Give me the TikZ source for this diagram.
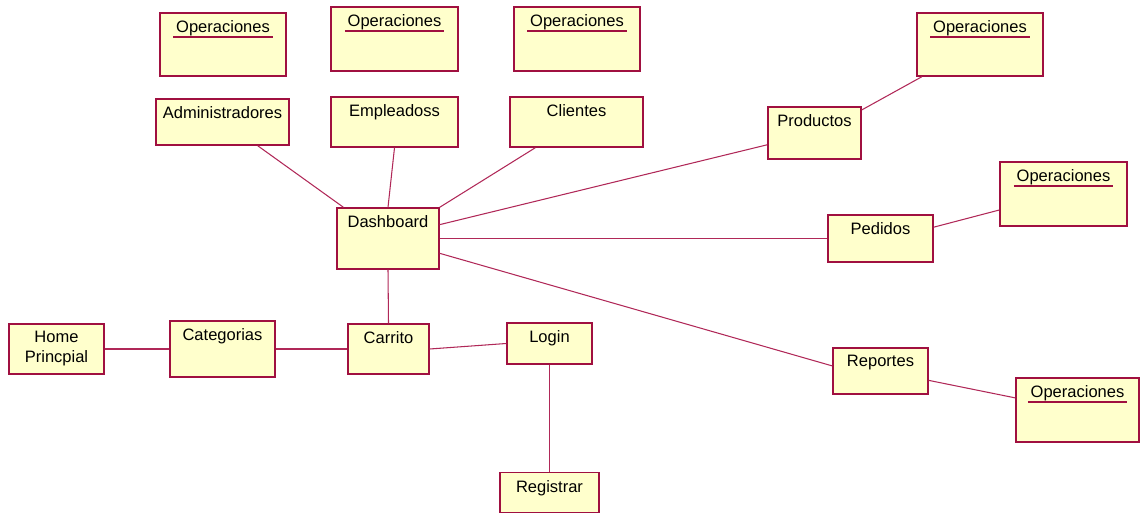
\documentclass[tikz,border=0pt]{standalone}
\usepackage{fontspec}
\setmainfont{Liberation Sans}
\usepackage{tikz}

\definecolor{objline}{RGB}{160,16,64}
\definecolor{objfill}{RGB}{255,255,204}
\definecolor{linkline}{RGB}{176,40,88}

% red underline for the operation boxes
\newsavebox{\opsbox}
\newcommand{\opslabel}{\sbox{\opsbox}{\,Operaciones\,}%
	\rlap{\color{objline}\vrule width\wd\opsbox height -2.2pt depth 3pt}\copy\opsbox}

\begin{document}
\begin{tikzpicture}[
	font=\fontsize{9.4}{11.2}\selectfont,
	obj/.style={draw=objline, fill=objfill, line width=0.8pt, rectangle, inner sep=0pt},
	objname/.style={label={[anchor=north, inner sep=0pt, yshift=-4.5pt, align=center]north:#1}},
	link/.style={draw=linkline, line width=0.6pt}]
	\useasboundingbox (0,0) rectangle (22.8,-10.26);

	% operaciones on top
	\node[obj,minimum width=2.52cm,minimum height=1.26cm,objname=\opslabel] (opsadmin) at (4.46,-0.89) {};
	\node[obj,minimum width=2.54cm,minimum height=1.28cm,objname=\opslabel] (opsempl)  at (7.89,-0.78) {};
	\node[obj,minimum width=2.52cm,minimum height=1.28cm,objname=\opslabel] (opscli)   at (11.54,-0.78) {};

	% users
	\node[obj,minimum width=2.66cm,minimum height=0.92cm,objname=Administradores] (admin)    at (4.45,-2.44) {};
	\node[obj,minimum width=2.54cm,minimum height=1.00cm,objname=Empleadoss]      (empl)     at (7.89,-2.44) {};
	\node[obj,minimum width=2.66cm,minimum height=1.00cm,objname=Clientes]        (clientes) at (11.53,-2.44) {};

	\node[obj,minimum width=2.04cm,minimum height=1.22cm,objname=Dashboard] (dash) at (7.76,-4.77) {};

	% right side
	\node[obj,minimum width=1.86cm,minimum height=1.04cm,objname=Productos] (productos) at (16.29,-2.66) {};
	\node[obj,minimum width=2.52cm,minimum height=1.26cm,objname=\opslabel] (opsprod)   at (19.60,-0.89) {};
	\node[obj,minimum width=2.10cm,minimum height=0.94cm,objname=Pedidos]   (pedidos)   at (17.61,-4.77) {};
	\node[obj,minimum width=2.54cm,minimum height=1.28cm,objname=\opslabel] (opsped)    at (21.27,-3.88) {};
	\node[obj,minimum width=1.90cm,minimum height=0.92cm,objname=Reportes]  (reportes)  at (17.61,-7.42) {};
	\node[obj,minimum width=2.46cm,minimum height=1.28cm,objname=\opslabel] (opsrep)    at (21.55,-8.20) {};

	% bottom row
	\node[obj,minimum width=1.90cm,minimum height=1.00cm,objname={Home\\Princpial}] (home) at (1.13,-6.98) {};
	\node[obj,minimum width=2.10cm,minimum height=1.12cm,objname=Categorias] (categorias) at (4.45,-6.98) {};
	\node[obj,minimum width=1.62cm,minimum height=1.00cm,objname=Carrito]    (carrito)    at (7.77,-6.98) {};
	\node[obj,minimum width=1.70cm,minimum height=0.82cm,objname=Login]      (login)      at (10.99,-6.87) {};
	\node[obj,minimum width=1.98cm,minimum height=0.80cm,objname=Registrar]  (registrar)  at (10.99,-9.85) {};

	\draw[link] (admin.-34) -- (dash.145);
	\draw[link] (empl.south) -- (dash.north);
	\draw[link] (clientes.212) -- (dash.north east);
	\draw[link] (dash.15) -- (productos.194);
	\draw[link] (dash.east) -- (pedidos.west);
	\draw[link] (dash.-16) -- (reportes.174);
	\draw[link] (productos.26) -- (opsprod.209);
	\draw[link] (pedidos.12) -- (opsped.194);
	\draw[link] (reportes.-11) -- (opsrep.169);
	\draw[link] (dash.south) -- (carrito.north);
	\draw[link] (home.east) -- (categorias.west);
	\draw[link] (categorias.east) -- (carrito.west);
	\draw[link] (carrito.east) -- (login.west);
	\draw[link] (login.south) -- (registrar.north);
\end{tikzpicture}
\end{document}
